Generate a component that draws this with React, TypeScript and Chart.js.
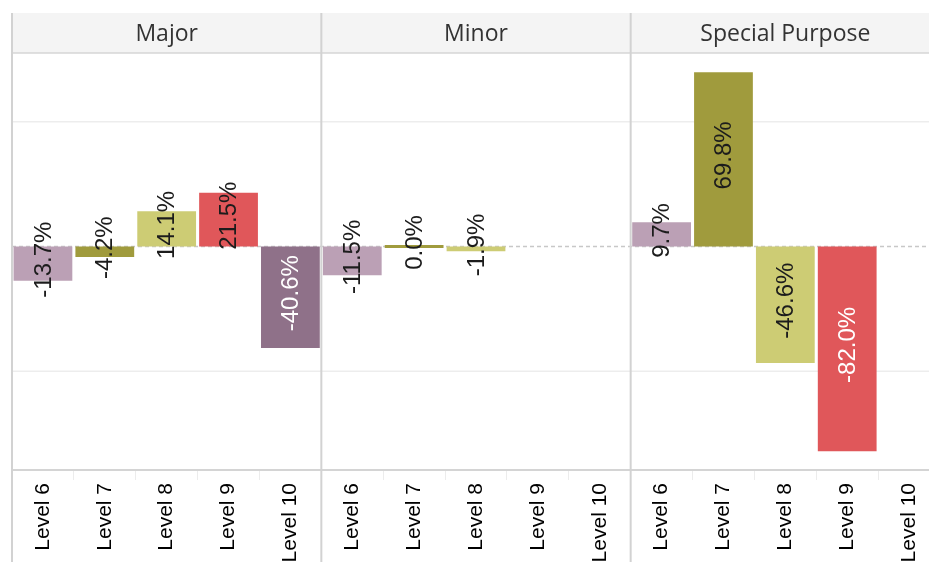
import React, { useEffect, useRef } from "react";
import { Chart, registerables } from "chart.js";

Chart.register(...registerables);

const PANELS = ["Major", "Minor", "Special Purpose"];
const LEVELS = ["Level 6", "Level 7", "Level 8", "Level 9", "Level 10"];
const MAJOR = [-13.7, -4.2, 14.1, 21.5, -40.6];
const MINOR = [-11.5, 0.0, -1.9, null, null];
const SPECIAL = [9.7, 69.8, -46.6, -82.0, null];
const LEVEL_COLORS = ["#bba0b5", "#a09b3d", "#cdcc74", "#e0575a", "#8f7189"];
const Y_MIN = -89.5;
const Y_MAX = 77.5;
const GRID_VALUES = [-50, 50];

const CANVAS_W = 950;
const CANVAS_H = 562;
const HEADER_TOP = 13;
const HEADER_BOTTOM = 53;

function luminance(hex: string) {
  const r = parseInt(hex.slice(1, 3), 16);
  const g = parseInt(hex.slice(3, 5), 16);
  const b = parseInt(hex.slice(5, 7), 16);
  return (0.299 * r + 0.587 * g + 0.114 * b) / 255;
}

const framePlugin = {
  id: "tableauFrame",
  beforeDraw(chart: any) {
    const { ctx, chartArea, scales } = chart;
    const x = scales.x;
    const band = x.getPixelForValue(1) - x.getPixelForValue(0);
    const left = chartArea.left;
    ctx.save();
    ctx.fillStyle = "#f4f4f4";
    ctx.fillRect(left, HEADER_TOP, CANVAS_W - left, HEADER_BOTTOM - HEADER_TOP);
    ctx.strokeStyle = "#d6d6d6";
    ctx.lineWidth = 1.5;
    ctx.beginPath();
    ctx.moveTo(left, HEADER_BOTTOM);
    ctx.lineTo(CANVAS_W, HEADER_BOTTOM);
    ctx.stroke();
    ctx.fillStyle = "#333333";
    ctx.font = '23px "Open Sans"';
    ctx.textAlign = "center";
    ctx.textBaseline = "middle";
    PANELS.forEach((p, i) => {
      const start = left + i * LEVELS.length * band;
      const end = start + LEVELS.length * band;
      ctx.fillText(p, (start + end) / 2, 34);
    });
    ctx.restore();
  },
  beforeDatasetsDraw(chart: any) {
    const { ctx, chartArea, scales } = chart;
    const y = scales.y;
    ctx.save();
    ctx.strokeStyle = "#ededed";
    ctx.lineWidth = 1.5;
    GRID_VALUES.forEach((v) => {
      const py = y.getPixelForValue(v);
      ctx.beginPath();
      ctx.moveTo(chartArea.left, py);
      ctx.lineTo(chartArea.right, py);
      ctx.stroke();
    });
    const zy = y.getPixelForValue(0);
    ctx.strokeStyle = "#c8c8c8";
    ctx.setLineDash([4, 3]);
    ctx.beginPath();
    ctx.moveTo(chartArea.left, zy);
    ctx.lineTo(chartArea.right, zy);
    ctx.stroke();
    ctx.restore();
  },
  afterDatasetsDraw(chart: any) {
    const { ctx } = chart;
    const meta = chart.getDatasetMeta(0);
    const data = chart.data.datasets[0].data;
    ctx.save();
    ctx.font = '24px "Liberation Sans"';
    ctx.textAlign = "center";
    ctx.textBaseline = "middle";
    meta.data.forEach((bar: any, i: number) => {
      const v = data[i];
      if (v === null || v === undefined) return;
      const text = v.toFixed(1) + "%";
      const len = Math.abs(bar.base - bar.y);
      const w = ctx.measureText(text).width;
      const color = LEVEL_COLORS[i % LEVELS.length];
      const fits = w + 6 < len;
      ctx.fillStyle = fits && luminance(color) < 0.53 ? "#ffffff" : "#1c1c1c";
      const cy = (bar.base + bar.y) / 2 - 4;
      ctx.save();
      ctx.translate(bar.x, cy);
      ctx.rotate(-Math.PI / 2);
      ctx.fillText(text, 0, 1);
      ctx.restore();
    });
    ctx.restore();
  },
  afterDraw(chart: any) {
    const { ctx, chartArea, scales } = chart;
    const x = scales.x;
    const band = x.getPixelForValue(1) - x.getPixelForValue(0);
    ctx.save();
    ctx.strokeStyle = "#d2d2d2";
    ctx.lineWidth = 2;
    for (let i = 0; i < PANELS.length; i++) {
      const px = chartArea.left + i * LEVELS.length * band;
      ctx.beginPath();
      ctx.moveTo(px, HEADER_TOP);
      ctx.lineTo(px, CANVAS_H);
      ctx.stroke();
    }
    ctx.restore();
  },
};

export default function App() {
  const ref = useRef<HTMLCanvasElement | null>(null);
  useEffect(() => {
    if (!ref.current) return;
    const labels: string[] = [];
    PANELS.forEach(() => LEVELS.forEach((l) => labels.push(l)));
    const values = [...MAJOR, ...MINOR, ...SPECIAL];
    const colors = values.map((_, i) => LEVEL_COLORS[i % LEVELS.length]);
    const chart = new Chart(ref.current, {
      type: "bar",
      data: {
        labels,
        datasets: [
          {
            data: values as any,
            backgroundColor: colors,
            borderWidth: 0,
            barPercentage: 0.95,
            categoryPercentage: 1,
            minBarLength: 3,
          },
        ],
      },
      options: {
        animation: false,
        responsive: false,
        devicePixelRatio: 1,
        layout: { padding: { left: 12, right: 10, top: HEADER_BOTTOM, bottom: 0 } },
        plugins: { legend: { display: false }, tooltip: { enabled: false } },
        scales: {
          x: {
            type: "category",
            grid: {
              display: true,
              drawOnChartArea: false,
              drawTicks: true,
              tickLength: 10,
              color: "#ececec",
              offset: true,
            },
            border: { display: true, color: "#d4d4d4", width: 2 },
            ticks: {
              autoSkip: false,
              minRotation: 90,
              maxRotation: 90,
              padding: 3,
              color: "#000000",
              font: { family: '"Liberation Sans"', size: 21 },
            },
            afterFit: (scale: any) => {
              scale.height = CANVAS_H - 470;
            },
          },
          y: {
            display: false,
            min: Y_MIN,
            max: Y_MAX,
          },
        },
      },
      plugins: [framePlugin],
    });
    return () => chart.destroy();
  }, []);
  return (
    <div style={{ position: "fixed", left: 0, top: 0, width: 929, height: 562, overflow: "hidden", background: "#ffffff" }}>
      <canvas ref={ref} width={CANVAS_W} height={CANVAS_H} style={{ width: CANVAS_W, height: CANVAS_H, display: "block" }} />
    </div>
  );
}
